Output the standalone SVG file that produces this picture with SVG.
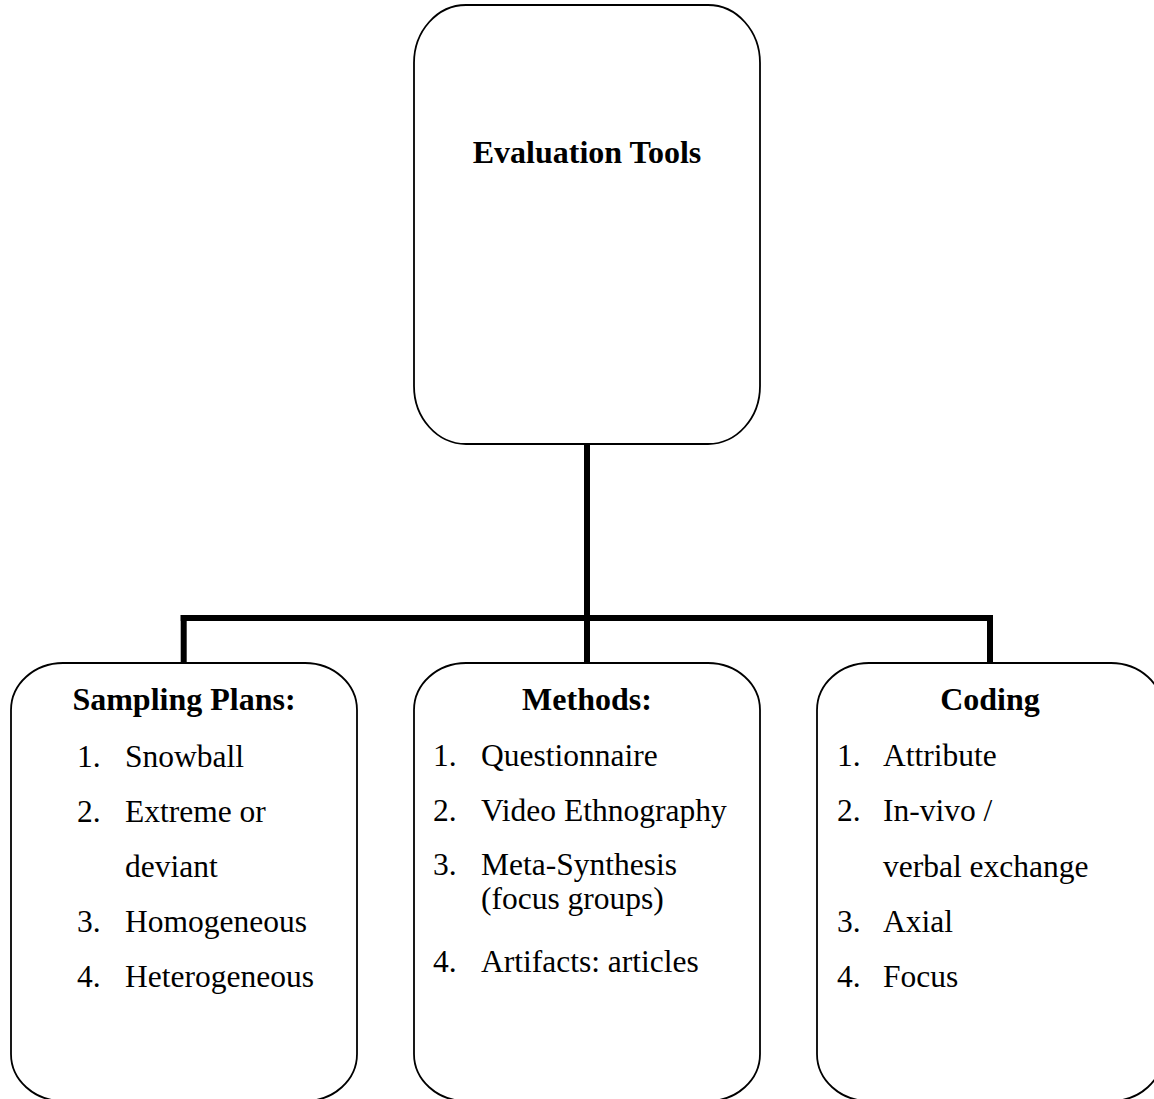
<svg xmlns="http://www.w3.org/2000/svg" width="1154" height="1099" viewBox="0 0 1154 1099">
<style>
.box{fill:#fff;stroke:#000;stroke-width:1.8}
.conn{stroke:#000;stroke-width:6;fill:none;stroke-linecap:butt}
text{font-family:"Liberation Serif","Times New Roman",serif;fill:#000;font-size:31.5px}
.h{font-weight:bold;text-anchor:middle;font-size:32px}
</style>
<rect width="1154" height="1099" fill="#fff"/>
<g id="connectors">
<line class="conn" x1="587" y1="444" x2="587" y2="662"/>
<line class="conn" x1="180.7" y1="618" x2="993" y2="618"/>
<line class="conn" x1="183.7" y1="615" x2="183.7" y2="662"/>
<line class="conn" x1="990" y1="615" x2="990" y2="662"/>
</g>
<g id="evaluation-tools">
<rect class="box" x="414" y="5" width="346" height="439" rx="52" ry="58"/>
<text class="h" x="587" y="163">Evaluation Tools</text>
</g>
<g id="sampling-plans">
<rect class="box" x="11" y="663" width="346" height="438" rx="52" ry="47"/>
<text class="h" x="184" y="710">Sampling Plans:</text>
<text x="77" y="767">1.</text><text x="125" y="767">Snowball</text>
<text x="77" y="822">2.</text><text x="125" y="822">Extreme or</text>
<text x="125" y="877">deviant</text>
<text x="77" y="932">3.</text><text x="125" y="932">Homogeneous</text>
<text x="77" y="987">4.</text><text x="125" y="987">Heterogeneous</text>
</g>
<g id="methods">
<rect class="box" x="414" y="663" width="346" height="438" rx="52" ry="47"/>
<text class="h" x="587" y="710">Methods:</text>
<text x="433" y="766">1.</text><text x="481" y="766">Questionnaire</text>
<text x="433" y="821">2.</text><text x="481" y="821">Video Ethnography</text>
<text x="433" y="875">3.</text><text x="481" y="875">Meta-Synthesis</text>
<text x="481" y="909">(focus groups)</text>
<text x="433" y="972">4.</text><text x="481" y="972">Artifacts: articles</text>
</g>
<g id="coding">
<rect class="box" x="817" y="663" width="346" height="438" rx="52" ry="47"/>
<text class="h" x="990" y="710">Coding</text>
<text x="837" y="766">1.</text><text x="883" y="766">Attribute</text>
<text x="837" y="821">2.</text><text x="883" y="821">In-vivo /</text>
<text x="883" y="877">verbal exchange</text>
<text x="837" y="932">3.</text><text x="883" y="932">Axial</text>
<text x="837" y="987">4.</text><text x="883" y="987">Focus</text>
</g>
</svg>
